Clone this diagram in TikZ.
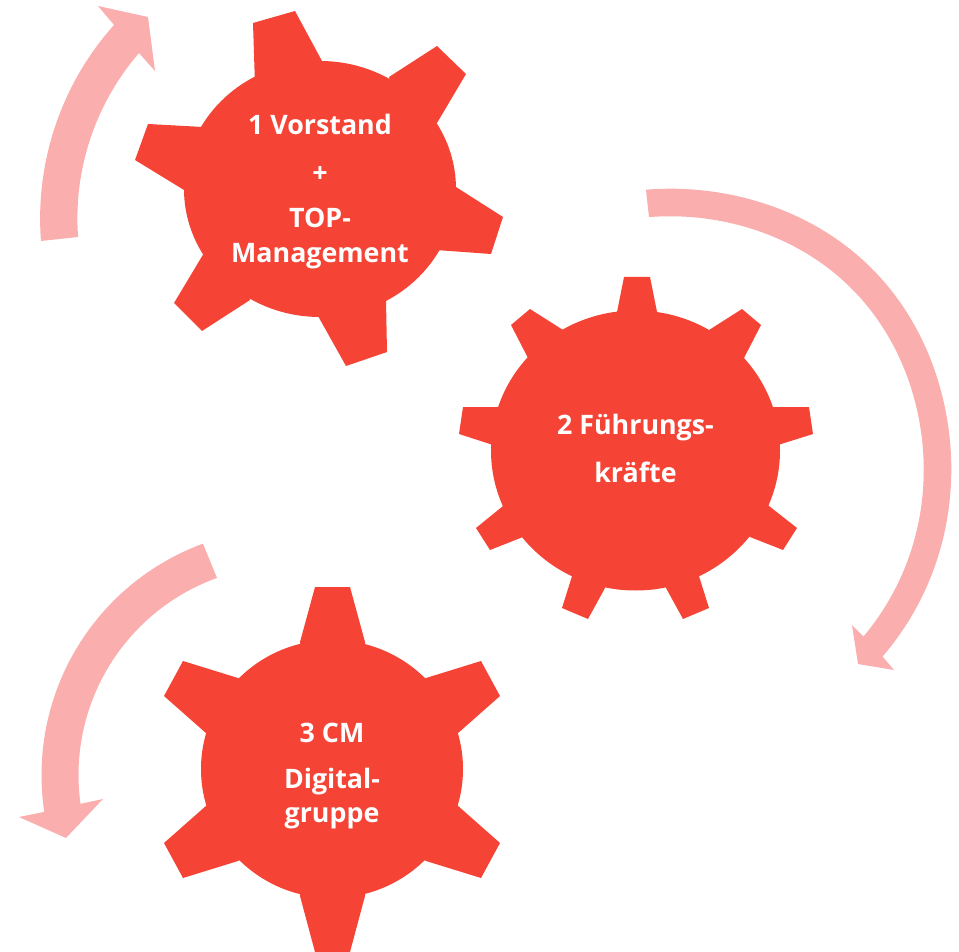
\documentclass[tikz,border=0pt]{standalone}
\usepackage{fontspec}
\setmainfont{Open Sans}
\definecolor{gearred}{HTML}{F54435}
\definecolor{arrowpink}{HTML}{FAAEAE}
\tikzset{
  gearshape/.style={fill=gearred,draw=none},
  cyclearrow/.style={fill=arrowpink,draw=none},
  gearlabel/.style={text=white,font=\fontsize{26.8}{30}\selectfont\bfseries,anchor=base,inner sep=0pt,outer sep=0pt},
}
\begin{document}
\begin{tikzpicture}[x=1pt,y=-1pt]
\useasboundingbox (0,0) rectangle (959,952);
% Arrows
\path[cyclearrow] plot[domain=175.56:221.8,samples=50] ({330.5+290.4*cos(\x)},{218.5+290.4*sin(\x)})
  -- (98,6) -- (148,17) -- (155,71)
  -- plot[domain=220.83:175.81,samples=50] ({330.5+253.1*cos(\x)},{218.5+253.1*sin(\x)}) -- cycle;
\path[cyclearrow] plot[domain=-94.46:40.7,samples=90] ({668+(283+5*(cos(\x+45))^8)*cos(\x)},{472+(283+5*(cos(\x+45))^8)*sin(\x)})
  -- (894,670) -- (858,664) -- (852,625)
  -- plot[domain=40.1:-94.26,samples=90] ({668+(255.5+4*(cos(\x+45))^8)*cos(\x)},{472+(255.5+4*(cos(\x+45))^8)*sin(\x)}) -- cycle;
\path[cyclearrow] plot[domain=249.8:171.4,samples=60] ({288+246.5*cos(\x)},{775+246.5*sin(\x)})
  -- (19,817) -- (66,838) -- (103,799)
  -- plot[domain=172.1:250.2,samples=60] ({288+209.5*cos(\x)},{775+209.5*sin(\x)}) -- cycle;
% Gear 1
\path[gearshape] (320,189) ellipse [x radius=136,y radius=128];
\path[gearshape] (253,23)--(295,11)--(322,61)--(320,90)--(255,85)--cycle;
\path[gearshape] (389,77)--(437,46)--(466,74)--(437,123)--(400,130)--cycle;
\path[gearshape] (456,187)--(503,217)--(491,254)--(436,250)--(430,190)--cycle;
\path[gearshape] (386,300)--(387,352)--(346,366)--(318,316)--(320,280)--cycle;
\path[gearshape] (250,300)--(202,331)--(174,303)--(204,253)--(240,260)--cycle;
\path[gearshape] (184,190)--(135,160)--(148,124)--(203,127)--(220,190)--cycle;
% Gear 2
\path[gearshape] (635.5,450.5) ellipse [x radius=144.5,y radius=140];
\path[gearshape] (617,312)--(624,277)--(650,277)--(657,312)--(657,340)--(617,340)--cycle;
\path[gearshape] (709,330)--(742,309)--(761,325)--(744,358)--(720,370)--(695,345)--cycle;
\path[gearshape] (772,407)--(809,407)--(813,434)--(778,445)--(750,445)--(750,407)--cycle;
\path[gearshape] (769,506)--(797,528)--(783,550)--(750,537)--(730,520)--(750,490)--cycle;
\path[gearshape] (698,573)--(709,608)--(683,619)--(666,588)--(660,560)--(690,550)--cycle;
\path[gearshape] (605,588)--(588,619)--(562,608)--(573,573)--(580,550)--(610,560)--cycle;
\path[gearshape] (523,537)--(490,550)--(476,528)--(503,506)--(520,490)--(540,520)--cycle;
\path[gearshape] (493,445)--(459,434)--(463,407)--(500,407)--(520,407)--(520,445)--cycle;
\path[gearshape] (528,358)--(511,325)--(530,309)--(563,330)--(575,345)--(550,370)--cycle;
% Gear 3
\path[gearshape] (332,769) ellipse [x radius=131,y radius=129];
\path[gearshape] (300,642)--(315,587)--(350,587)--(365,642)--(365,670)--(300,670)--cycle;
\path[gearshape] (426,678)--(481,661)--(500,696)--(457,734)--(430,740)--(405,690)--cycle;
\path[gearshape] (457,805)--(500,843)--(481,878)--(426,861)--(405,850)--(430,800)--cycle;
\path[gearshape] (365,896)--(350,952)--(315,952)--(300,896)--(300,870)--(365,870)--cycle;
\path[gearshape] (238,861)--(183,878)--(164,843)--(207,805)--(234,800)--(259,850)--cycle;
\path[gearshape] (207,734)--(164,696)--(183,661)--(238,678)--(259,690)--(234,740)--cycle;
% Labels
\node[gearlabel] (vorstand) at (320,135) {1 Vorstand};
\node[gearlabel] (plus) at (320,183) {+};
\node[gearlabel] (top) at (320,228) {TOP-};
\node[gearlabel] (management) at (320,262) {Management};
\node[gearlabel] (fuehrung) at (635.5,434) {2 Führungs-};
\node[gearlabel] (kraefte) at (635.5,482) {kräfte};
\node[gearlabel] (cm) at (332,742) {3 CM};
\node[gearlabel] (digital) at (332,788) {Digital-};
\node[gearlabel] (gruppe) at (332,822) {gruppe};
\end{tikzpicture}
\end{document}
